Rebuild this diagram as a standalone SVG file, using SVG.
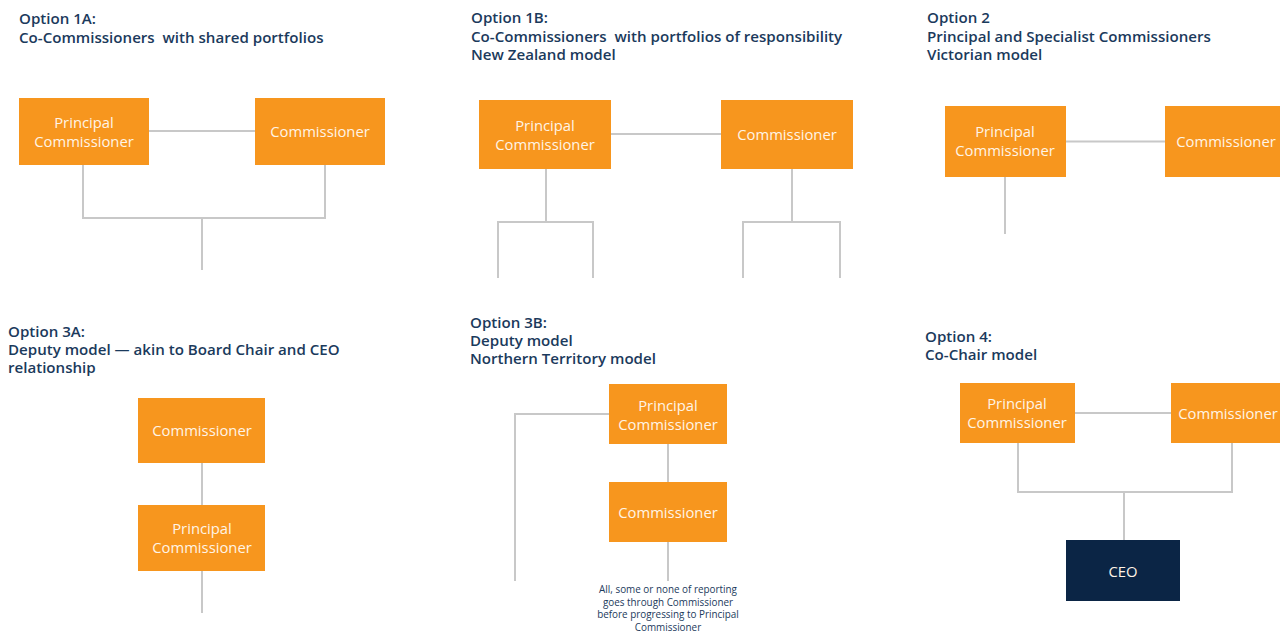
<svg xmlns="http://www.w3.org/2000/svg" width="1280" height="635" viewBox="0 0 1280 635">
<style>
.bg{fill:#ffffff}
.t{font-family:"Open Sans","Noto Sans",sans-serif;font-weight:600;font-size:15.1px;fill:#1b3a5c;white-space:pre}
.box{fill:#f7961e}
.ceo{fill:#0b2545}
.bt{font-family:"Open Sans","Noto Sans",sans-serif;font-size:14.8px;fill:#fff4e6;text-anchor:middle}
.note{font-family:"Open Sans","Noto Sans",sans-serif;font-size:9.9px;fill:#1b3a5c;text-anchor:middle}
.c{fill:none;stroke:#c8c8c8;stroke-width:2}
</style>
<rect class="bg" x="0" y="0" width="1280" height="635"/>

<g id="titles">
<text class="t" x="19" y="24">Option 1A:</text>
<text class="t" x="19" y="43" xml:space="preserve">Co-Commissioners  with shared portfolios</text>
<text class="t" x="471" y="23">Option 1B:</text>
<text class="t" x="471" y="41.5" xml:space="preserve">Co-Commissioners  with portfolios of responsibility</text>
<text class="t" x="471" y="60">New Zealand model</text>
<text class="t" x="927" y="23">Option 2</text>
<text class="t" x="927" y="41.5">Principal and Specialist Commissioners</text>
<text class="t" x="927" y="60">Victorian model</text>
<text class="t" x="8" y="337">Option 3A:</text>
<text class="t" x="8" y="355">Deputy model — akin to Board Chair and CEO</text>
<text class="t" x="8" y="373">relationship</text>
<text class="t" x="470" y="328">Option 3B:</text>
<text class="t" x="470" y="346">Deputy model</text>
<text class="t" x="470" y="364">Northern Territory model</text>
<text class="t" x="925" y="342">Option 4:</text>
<text class="t" x="925" y="359.5">Co-Chair model</text>
</g>

<g id="connectors">
<!-- 1A -->
<path class="c" d="M149 131H255"/>
<path class="c" d="M83 165V218H325V165"/>
<path class="c" d="M202 218V270"/>
<!-- 1B -->
<path class="c" d="M611 134H721"/>
<path class="c" d="M546 169V222"/>
<path class="c" d="M498 278V222H593V278"/>
<path class="c" d="M792 169V222"/>
<path class="c" d="M743 278V222H840V278"/>
<!-- 2 -->
<path class="c" d="M1066 141.5H1166"/>
<path class="c" d="M1005 177V234"/>
<!-- 3A -->
<path class="c" d="M202 463V505"/>
<path class="c" d="M202 571V613"/>
<!-- 3B -->
<path class="c" d="M668 444V482"/>
<path class="c" d="M668 542V581"/>
<path class="c" d="M609 414H515V581"/>
<!-- 4 -->
<path class="c" d="M1075 413H1171"/>
<path class="c" d="M1018 443V492H1232V443"/>
<path class="c" d="M1124 492V540"/>
</g>

<g id="n1a-pc"><rect class="box" x="19" y="98" width="130" height="67"/><text class="bt" x="84" y="128">Principal</text><text class="bt" x="84" y="147">Commissioner</text></g>
<g id="n1a-c"><rect class="box" x="255" y="98" width="130" height="67"/><text class="bt" x="320" y="137">Commissioner</text></g>

<g id="n1b-pc"><rect class="box" x="479" y="100" width="132" height="69"/><text class="bt" x="545" y="131">Principal</text><text class="bt" x="545" y="150">Commissioner</text></g>
<g id="n1b-c"><rect class="box" x="721" y="100" width="132" height="69"/><text class="bt" x="787" y="140">Commissioner</text></g>

<g id="n2-pc"><rect class="box" x="945" y="106" width="121" height="71"/><text class="bt" x="1005" y="137">Principal</text><text class="bt" x="1005" y="156">Commissioner</text></g>
<g id="n2-c"><rect class="box" x="1165" y="106" width="121" height="71"/><text class="bt" x="1226" y="147">Commissioner</text></g>

<g id="n3a-c"><rect class="box" x="138" y="398" width="127" height="65"/><text class="bt" x="202" y="436">Commissioner</text></g>
<g id="n3a-pc"><rect class="box" x="138" y="505" width="127" height="66"/><text class="bt" x="202" y="534">Principal</text><text class="bt" x="202" y="553">Commissioner</text></g>

<g id="n3b-pc"><rect class="box" x="609" y="384" width="118" height="60"/><text class="bt" x="668" y="411">Principal</text><text class="bt" x="668" y="430">Commissioner</text></g>
<g id="n3b-c"><rect class="box" x="609" y="482" width="118" height="60"/><text class="bt" x="668" y="518">Commissioner</text></g>
<g id="n3b-note">
<text class="note" x="668" y="593">All, some or none of reporting</text>
<text class="note" x="668" y="605.5">goes through Commissioner</text>
<text class="note" x="668" y="618">before progressing to Principal</text>
<text class="note" x="668" y="630.5">Commissioner</text>
</g>

<g id="n4-pc"><rect class="box" x="960" y="383" width="115" height="60"/><text class="bt" x="1017" y="409">Principal</text><text class="bt" x="1017" y="428">Commissioner</text></g>
<g id="n4-c"><rect class="box" x="1171" y="383" width="115" height="60"/><text class="bt" x="1228" y="419">Commissioner</text></g>
<g id="n4-ceo"><rect class="ceo" x="1066" y="540" width="114" height="61"/><text class="bt" x="1123" y="577">CEO</text></g>
</svg>
